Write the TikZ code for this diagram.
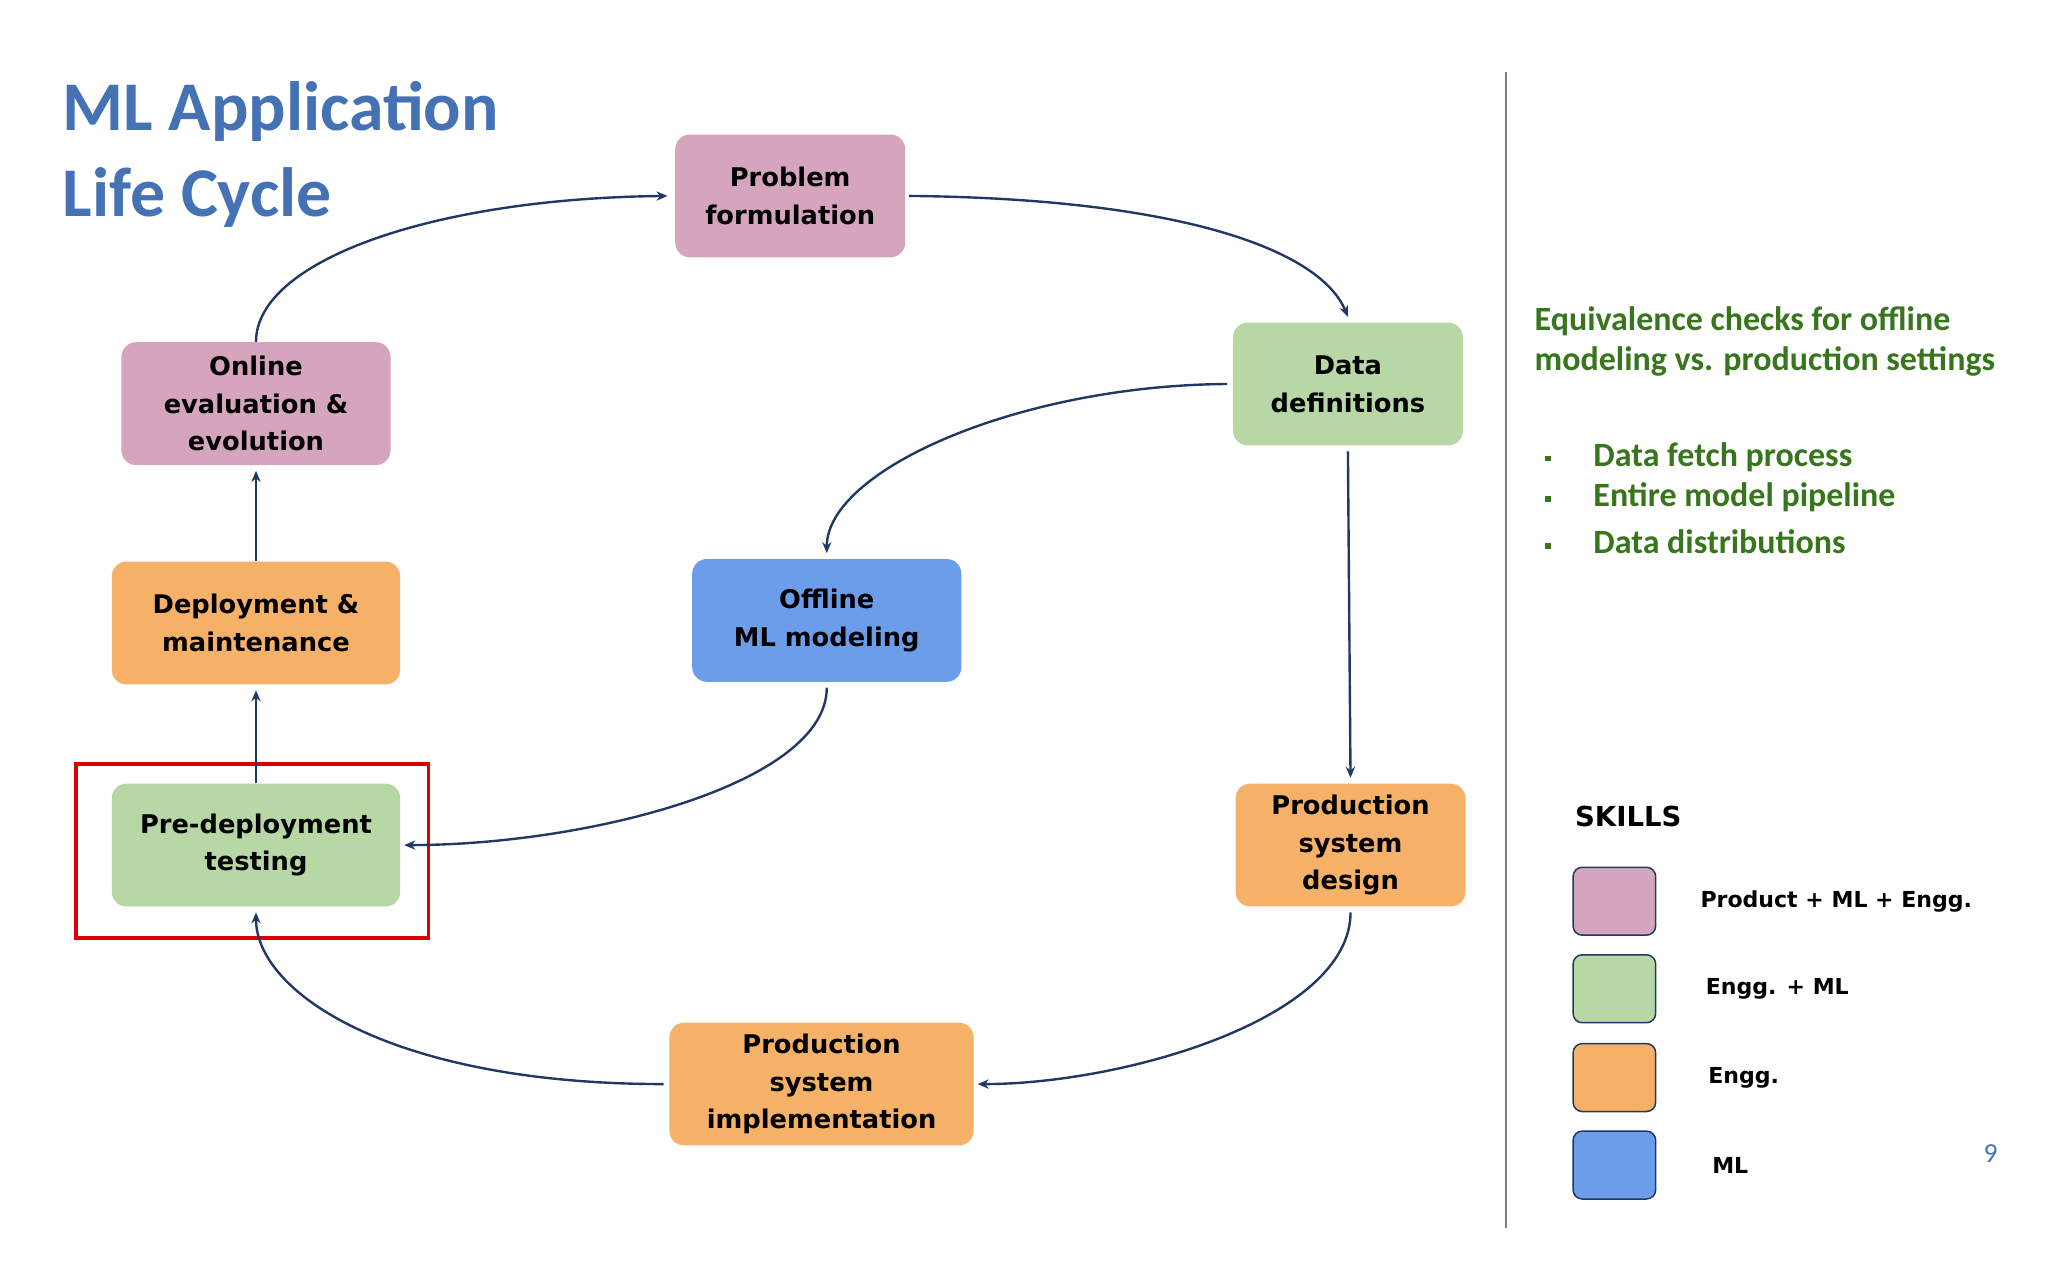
\documentclass[tikz,border=0pt]{standalone}
\usepackage{fontspec}
\setmainfont{DejaVu Sans}
\newfontfamily\carl{Carlito}
\usetikzlibrary{arrows.meta}
\definecolor{pinkc}{RGB}{213,165,189}
\definecolor{greenc}{RGB}{183,215,165}
\definecolor{orangec}{RGB}{245,177,104}
\definecolor{bluec}{RGB}{108,157,235}
\definecolor{navy}{RGB}{31,56,100}
\definecolor{titleblue}{RGB}{68,114,180}
\definecolor{txtgreen}{RGB}{56,118,29}
\begin{document}
\begin{tikzpicture}[x=0.025cm,y=-0.025cm,
  box/.style={rounded corners=8pt,align=center,font=\fontsize{14}{20.5}\selectfont\bfseries,inner sep=0pt},
  arr/.style={draw=navy,line width=1.3pt,-{Stealth[length=6pt,width=5pt]}},
  leg/.style={draw=navy,line width=0.8pt,rounded corners=5pt,minimum width=1.58cm,minimum height=1.3cm,inner sep=0pt},
  legt/.style={anchor=west,font=\fontsize{12}{14}\selectfont\bfseries}]
\useasboundingbox[fill=white] (0,0) rectangle (1568,980);
\node[anchor=base west,text=titleblue,font=\carl\fontsize{38}{40}\selectfont\bfseries] (t1) at (43,100) {ML Application};
\node[anchor=base west,text=titleblue,font=\carl\fontsize{38}{40}\selectfont\bfseries] (t2) at (43,166) {Life Cycle};
\node[box,fill=pinkc,minimum width=4.4cm,minimum height=2.35cm] (pf) at (605,150) {Problem\\formulation};
\node[box,fill=greenc,minimum width=4.4cm,minimum height=2.35cm] (dd) at (1032,294) {Data\\definitions};
\node[box,fill=pinkc,minimum width=5.15cm,minimum height=2.35cm] (oe) at (196,309) {Online\\evaluation \&\\evolution};
\node[box,fill=orangec,minimum width=5.52cm,minimum height=2.35cm] (dm) at (196,477) {Deployment \&\\maintenance};
\node[box,fill=bluec,minimum width=5.15cm,minimum height=2.35cm] (om) at (633,475) {Offline\\ML modeling};
\node[box,fill=greenc,minimum width=5.52cm,minimum height=2.35cm] (pd) at (196,647) {Pre-deployment\\testing};
\node[box,fill=orangec,minimum width=4.4cm,minimum height=2.35cm] (psd) at (1034,647) {Production\\system\\design};
\node[box,fill=orangec,minimum width=5.82cm,minimum height=2.35cm] (psi) at (629,830) {Production\\system\\implementation};
\draw[red!85!black,line width=2pt] (58,585) rectangle (328,718);
\draw[gray,line width=0.8pt] (1153,55) -- (1153,940);
\draw[arr] (oe.north) .. controls (196,200) and (330,152) .. ([xshift=-4pt]pf.west);
\draw[arr] ([xshift=2pt]pf.east) .. controls (900,152) and (1010,190) .. ([yshift=3pt]dd.north);
\draw[arr] ([xshift=-3pt]dd.west) .. controls (780,295) and (633,360) .. ([yshift=3pt]om.north);
\draw[arr] ([yshift=-3pt]dd.south) -- ([yshift=3pt]psd.north);
\draw[arr] ([yshift=-3pt]psd.south) .. controls (1034,780) and (860,830) .. ([xshift=2pt]psi.east);
\draw[arr] ([xshift=-3pt]psi.west) .. controls (300,830) and (196,760) .. ([yshift=-3pt]pd.south);
\draw[arr] ([yshift=-3pt]om.south) .. controls (633,600) and (450,647) .. ([xshift=2pt]pd.east);
\draw[arr] (pd.north) -- ([yshift=-3pt]dm.south);
\draw[arr] (dm.north) -- ([yshift=-3pt]oe.south);
\node[anchor=base west,text=txtgreen,font=\carl\fontsize{18.5}{22}\selectfont\bfseries,align=left] (eq) at (1170,253) {Equivalence checks for offline};
\node[anchor=base west,text=txtgreen,font=\carl\fontsize{18.5}{22}\selectfont\bfseries] (eq2) at (1170,284) {modeling vs. production settings};
\foreach \y/\t [count=\i] in {357/Data fetch process,388/Entire model pipeline,424/Data distributions}{
  \node[anchor=base west,text=txtgreen,font=\carl\fontsize{18.5}{22}\selectfont\bfseries] (b\i) at (1215,\y) {\t};
  \node[fill=txtgreen,minimum size=3pt,inner sep=0pt] (s\i) at (1185,\y-6) {};
}
\node[anchor=base west,font=\fontsize{15}{18}\selectfont\bfseries] (sk) at (1201,633) {SKILLS};
\node[leg,fill=pinkc] (l1) at (1236,690) {};
\node[leg,fill=greenc] (l2) at (1236,757) {};
\node[leg,fill=orangec] (l3) at (1236,825) {};
\node[leg,fill=bluec] (l4) at (1236,892) {};
\node[legt] (lt1) at (1297,690) {Product + ML + Engg.};
\node[legt] (lt2) at (1301,757) {Engg. + ML};
\node[legt] (lt3) at (1303,825) {Engg.};
\node[legt] (lt4) at (1306,892) {ML};
\node[text=titleblue,font=\carl\fontsize{15}{18}\selectfont] (pg) at (1524,883) {9};
\end{tikzpicture}
\end{document}
